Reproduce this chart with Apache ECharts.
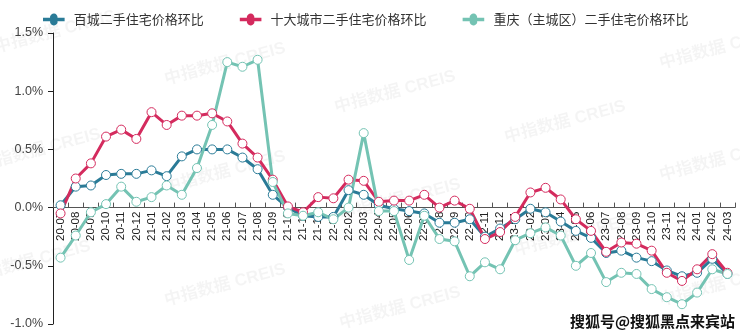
<!DOCTYPE html>
<html><head><meta charset="utf-8">
<script src="https://cdn.jsdelivr.net/npm/echarts@6/dist/echarts.min.js"></script>
<style>html,body{margin:0;padding:0;background:#fff}#c{width:740px;height:334px}</style>
</head><body><div id="c"></div>
<script>
const categories = ['20-07','20-08','20-09','20-10','20-11','20-12',
 '21-01','21-02','21-03','21-04','21-05','21-06','21-07','21-08','21-09','21-10','21-11','21-12',
 '22-01','22-02','22-03','22-04','22-05','22-06','22-07','22-08','22-09','22-10','22-11','22-12',
 '23-01','23-02','23-03','23-04','23-05','23-06','23-07','23-08','23-09','23-10','23-11','23-12',
 '24-01','24-02','24-03'];
const seriesNames = ['百城二手住宅价格环比','十大城市二手住宅价格环比','重庆（主城区）二手住宅价格环比'];
const hundredCities = [0.02,0.18,0.19,0.28,0.29,0.29,
 0.32,0.27,0.44,0.50,0.50,0.50,0.43,0.33,0.11,0.00,-0.07,-0.08,
 -0.08,0.15,0.11,0.02,-0.01,-0.03,-0.05,-0.13,-0.13,-0.10,-0.25,-0.18,
 -0.10,-0.01,-0.04,-0.12,-0.20,-0.26,-0.39,-0.37,-0.43,-0.46,-0.54,-0.59,
 -0.56,-0.44,-0.57];
const tenCities = [-0.05,0.25,0.38,0.61,0.67,0.59,
 0.82,0.71,0.79,0.79,0.81,0.74,0.55,0.43,0.24,0.01,-0.04,0.09,
 0.08,0.24,0.23,0.05,0.06,0.06,0.11,0.00,0.06,-0.01,-0.27,-0.21,
 -0.08,0.13,0.17,0.07,-0.10,-0.20,-0.38,-0.30,-0.31,-0.37,-0.56,-0.63,
 -0.53,-0.40,-0.56];
const chongqing = [-0.43,-0.24,-0.04,0.03,0.18,0.05,
 0.09,0.19,0.11,0.34,0.71,1.25,1.21,1.27,0.22,-0.05,-0.07,-0.04,
 -0.10,0.00,0.64,-0.03,-0.03,-0.45,-0.07,-0.27,-0.29,-0.59,-0.47,-0.53,
 -0.28,-0.22,-0.17,-0.24,-0.50,-0.39,-0.64,-0.56,-0.57,-0.70,-0.77,-0.83,
 -0.73,-0.53,-0.57];
const yTicks = [-1.0,-0.5,0.0,0.5,1.0,1.5];
const colors = ['#2a7b97','#d42b5e','#74c3b3'];

const FONT = '"Liberation Sans","Noto Sans CJK SC",sans-serif';
const chart = echarts.init(document.getElementById('c'), null, {renderer:'canvas'});

const GRID = {left:53, right:5, top:33, bottom:10};
const plotH = 334 - GRID.top - GRID.bottom;
const yMin = yTicks[0], yMax = yTicks[yTicks.length-1];
const zeroOffset = plotH * (0 - yMin) / (yMax - yMin);

const wm = [[55,32],[225,64],[395,92],[565,122],[720,48],[40,150],[225,172],[400,200],[575,235],[30,262],[225,285],[400,308],[720,160],[720,285]];
const graphics = wm.map(p => ({
  type:'text', x:p[0], y:p[1], rotation: 15*Math.PI/180, z:-1,
  style:{text:'中指数据 CREIS', font:'bold 17px '+FONT, fill:'rgba(0,0,0,0.045)', align:'center', verticalAlign:'middle'}
}));
graphics.push({type:'text', x:735, y:321, z:100,
  style:{text:'搜狐号@搜狐黑点来宾站', font:'bold 15px "Noto Sans CJK SC",sans-serif', fill:'#111', stroke:'#fff', lineWidth:3, align:'right', verticalAlign:'middle'}});

function mk(i, data){
  return {
    name: seriesNames[i], type:'line', data: data,
    symbol:'circle', symbolSize:9, showAllSymbol:true,
    lineStyle:{width:3, color:colors[i]},
    itemStyle:{color:'#fff', borderColor:colors[i], borderWidth:1},
    emphasis:{disabled:true}
  };
}

chart.setOption({
  animation:false,
  textStyle:{fontFamily:FONT},
  graphic: graphics,
  color: colors,
  legend:{
    top:8, left:38, itemWidth:30, itemHeight:10, itemGap:36,
    textStyle:{fontSize:13, color:'#333', fontFamily:'"Noto Sans CJK SC",sans-serif'},
    data: seriesNames.map((n,i)=>({name:n, icon:'path://M0,4H12A4,4 0 1,1 18,4H30V6H18A4,4 0 1,1 12,6H0Z', itemStyle:{color:colors[i]}}))
  },
  grid:{left:GRID.left, right:GRID.right, top:GRID.top, bottom:GRID.bottom, containLabel:false},
  xAxis:{
    type:'category', data:categories, boundaryGap:true, position:'bottom',
    offset: -zeroOffset,
    axisLine:{onZero:false, lineStyle:{color:'#555', width:1}},
    axisTick:{show:true, inside:true, length:5, lineStyle:{color:'#555'}},
    axisLabel:{rotate:90, fontSize:11.5, color:'#222', margin:4, interval:0, fontFamily:FONT},
    splitLine:{show:false}
  },
  yAxis:{
    type:'value', min:yMin, max:yMax, interval:0.5,
    axisLine:{show:true, lineStyle:{color:'#222'}},
    axisTick:{show:true, length:5, lineStyle:{color:'#222'}},
    axisLabel:{fontSize:12.5, color:'#444', margin:10, formatter:v=>v.toFixed(1)+'%'},
    splitLine:{show:false}
  },
  series:[mk(0,hundredCities), mk(1,tenCities), mk(2,chongqing)]
});
</script></body></html>
